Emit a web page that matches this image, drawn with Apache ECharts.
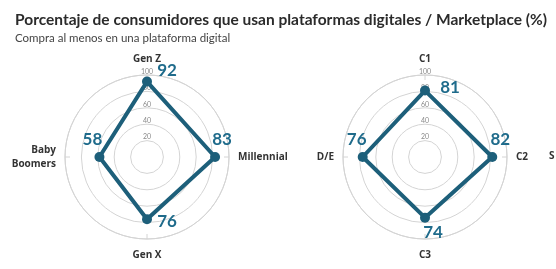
<!DOCTYPE html>
<html><head><meta charset="utf-8">
<script src="https://cdn.jsdelivr.net/npm/echarts@6/dist/echarts.min.js"></script>
<style>html,body{margin:0;padding:0;background:#fff}#c{width:556px;height:269px}</style>
</head><body><div id="c"></div>
<script>
const title = 'Porcentaje de consumidores que usan plataformas digitales / Marketplace (%)';
const subtitle = 'Compra al menos en una plataforma digital';
const genCategories = ['Gen Z', 'Millennial', 'Gen X', 'Baby\nBoomers'];
const genValues = [92, 83, 76, 58];
const nseCategories = ['C1', 'C2', 'C3', 'D/E'];
const nseValues = [81, 82, 74, 76];
const radiusTicks = [0, 20, 40, 60, 80, 100];
const nextChartLabel = 'S';

const LINE = '#1d5f7a', VAL = '#1f6b8b', GRID = '#d4d4d4', FONT = 'Lato, "Open Sans", sans-serif';
const CAT_FONT = '"Open Sans", Lato, sans-serif';
const labelOffsets = [
  [[20, -11], [7, -17], [20, 2], [-7, -17]],
  [[25, -3], [8, -17], [8, 15], [-6, -17]]
];
const charts = [
  {cats: genCategories, vals: genValues, center: [147, 157]},
  {cats: nseCategories, vals: nseValues, center: [425, 157]}
];
const polar = [], angleAxis = [], radiusAxis = [], series = [];
charts.forEach((c, k) => {
  const n = c.cats.length;
  polar.push({center: c.center, radius: 82});
  angleAxis.push({
    polarIndex: k, type: 'value', min: 0, max: n, interval: 1, startAngle: 90, clockwise: true,
    axisLine: {lineStyle: {color: GRID, width: 1}},
    axisTick: {show: true, inside: true, length: 5, lineStyle: {color: GRID}},
    splitLine: {show: false},
    axisLabel: {formatter: v => (c.cats[v] !== undefined ? c.cats[v] : ''), margin: 9,
      color: '#333', fontWeight: 'bold', fontSize: 10, fontFamily: CAT_FONT, lineHeight: 14}
  });
  radiusAxis.push({
    polarIndex: k, type: 'value', min: radiusTicks[0], max: radiusTicks[radiusTicks.length - 1], interval: 20,
    axisLine: {show: false}, axisTick: {show: false},
    splitLine: {lineStyle: {color: GRID, width: 1}},
    axisLabel: {showMinLabel: false, align: 'center', verticalAlign: 'bottom', margin: 0,
      color: '#8a8a8a', fontSize: 7, fontFamily: FONT}
  });
  const pts = c.vals.map((v, i) => ({
    value: [v, i],
    label: {show: true, position: 'inside', offset: labelOffsets[k][i]}
  }));
  pts.push({value: [c.vals[0], n], symbol: 'none', label: {show: false}});
  series.push({
    type: 'line', coordinateSystem: 'polar', polarIndex: k, data: pts,
    symbol: 'circle', symbolSize: 10, z: 5,
    lineStyle: {color: LINE, width: 4}, itemStyle: {color: LINE},
    label: {color: VAL, fontSize: 17, fontWeight: 'bold', fontFamily: FONT, formatter: p => p.value[0]},
    animation: false
  });
});
const chart = echarts.init(document.getElementById('c'), null, {renderer: 'canvas'});
chart.setOption({
  animation: false,
  title: [
    {text: title, left: 10, top: 7, textStyle: {fontSize: 15.5, fontWeight: 'bold', color: '#2b2b2b', fontFamily: FONT}},
    {text: subtitle, left: 10, top: 27, textStyle: {fontSize: 11.5, fontWeight: 'normal', color: '#444', fontFamily: FONT}}
  ],
  polar, angleAxis, radiusAxis, series,
  graphic: [{type: 'text', left: 549, top: 151, style: {text: nextChartLabel, fill: '#333', font: 'bold 10px ' + CAT_FONT}}]
});
</script></body></html>
